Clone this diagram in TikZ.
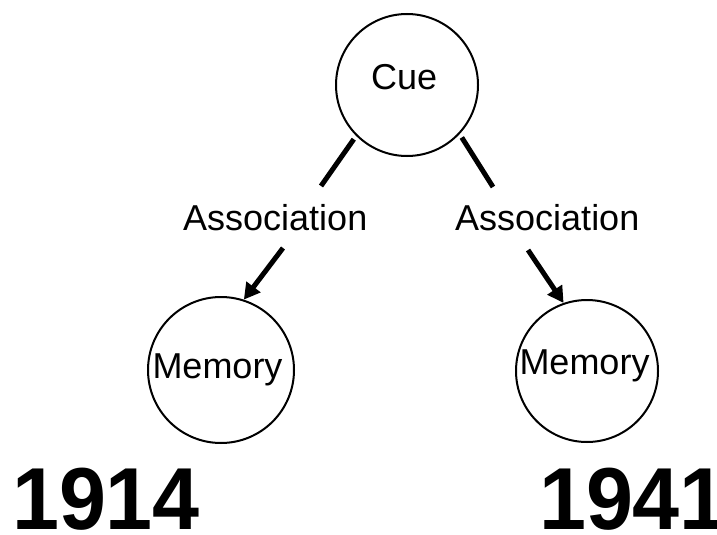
\documentclass[tikz,border=0pt]{standalone}
\usepackage{fontspec}
\setmainfont{Liberation Sans}
\newfontfamily\yearfont[FakeStretch=0.96]{Liberation Sans Bold}
\usetikzlibrary{arrows.meta}
\begin{document}
\begin{tikzpicture}[x=1pt,y=-1pt,
  bubble/.style={circle, draw=black, line width=2pt, minimum size=142pt, inner sep=0pt},
  word/.style={font=\fontsize{36}{40}\selectfont, inner sep=0pt, anchor=base west},
  year/.style={font=\fontsize{88}{90}\selectfont\yearfont, inner sep=0pt, anchor=base},
  link/.style={line width=5pt},
  pointer/.style={line width=5pt, -{Triangle[length=16pt,width=17pt]}}]
  \fill[white] (0,0) rectangle (717,535);
  \useasboundingbox (0,0) rectangle (717,535);

  % circles
  \node[bubble] (cue)  at (407,85)  {};
  \node[bubble, minimum size=146pt] (memL) at (221,370) {};
  \node[bubble] (memR) at (587,371) {};

  % texts
  \node[word] (cueT)  at (371,89)    {Cue};
  \node[word] (memLT) at (152.3,378) {Memory};
  \node[word] (memRT) at (519.3,374) {Memory};
  \node[word] (assL)  at (183,230)   {Association};
  \node[word] (assR)  at (455,230)   {Association};
  \node[year] (yrL)   at (106,529)   {1914};
  \node[year] (yrR)   at (633,529)   {1941};

  % ends of the broken links around the labels
  \coordinate (lEnd) at (321,186);
  \coordinate (rEnd) at (493,187);
  \coordinate (lStart) at (283,248);
  \coordinate (rStart) at (528,250);

  \draw[link, shorten <=4pt] (cue.-135) -- (lEnd);
  \draw[link, shorten <=4pt] (cue.-43) -- (rEnd);
  \draw[pointer] (lStart) -- (memL.72);
  \draw[pointer] (rStart) -- (memR.109);
\end{tikzpicture}
\end{document}
